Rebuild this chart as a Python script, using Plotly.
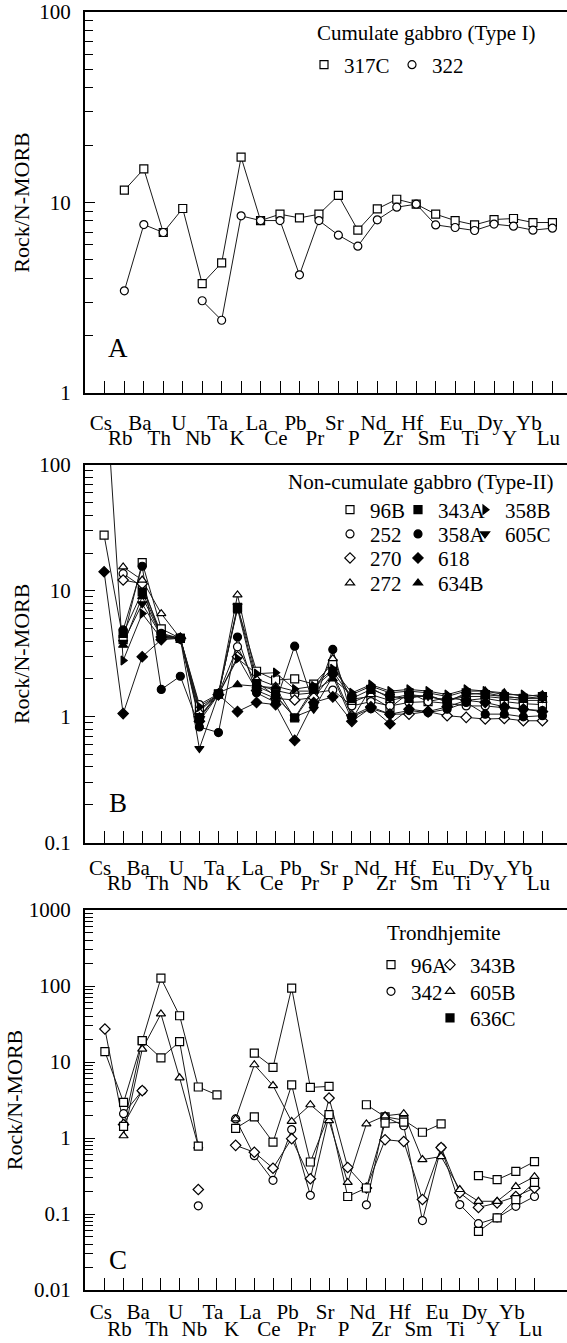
import plotly.graph_objects as go

# ---------------- data ----------------
elements = ["Cs", "Rb", "Ba", "Th", "U", "Nb", "Ta", "K", "La", "Ce", "Pb", "Pr",
            "Sr", "P", "Nd", "Zr", "Hf", "Sm", "Eu", "Ti", "Dy", "Y", "Yb", "Lu"]

# Panel A: Cumulate gabbro (Type I)
a_317C = [None, 11.6, 15.0, 6.96, 9.3, 3.75, 4.82, 17.3, 8.04, 8.68, 8.3, 8.68,
          10.9, 7.16, 9.26, 10.4, 9.8, 8.68, 8.04, 7.63, 8.14, 8.24, 7.85, 7.85]
a_322 = [None, 3.44, 7.66, 6.96, None, 3.05, 2.41, 8.51, 8.04, 8.04, 4.17, 8.04,
         6.74, 5.9, 8.11, 9.45, 9.8, 7.63, 7.39, 7.13, 7.70, 7.51, 7.16, 7.33]

# Panel B: Non-cumulate gabbro (Type-II)
b_96B = [27.7, 4.1, 16.8, 5.0, 4.2, 1.14, 1.51, 7.4, 2.3, 1.96, 2.0, 1.82,
         2.65, 1.38, 1.45, 1.18, 1.55, 1.32, 1.42, 1.35, 1.40, 1.32, 1.27, 1.25]
b_252 = [None, 13.7, 10.8, 4.6, 4.2, 1.25, 1.52, 3.6, 1.8, 1.62, 1.5, 1.55,
         1.63, 1.22, 1.32, 1.22, 1.3, 1.32, 1.28, 1.22, 1.22, 1.18, 1.15, 1.12]
b_270 = [None, 12.2, 11.4, 4.3, 4.2, 1.0, 1.5, 3.0, 1.62, 1.4, 1.36, 1.42,
         2.2, 1.02, 1.2, 1.05, 1.05, 1.1, 1.02, 0.99, 0.96, 0.97, 0.93, 0.93]
b_272 = [None, 15.5, 12.2, 6.6, 4.2, 1.1, 1.52, 9.3, 2.0, 1.75, 1.6, 1.6,
         2.9, 1.3, 1.5, 1.35, 1.45, 1.45, 1.35, 1.45, 1.45, 1.4, 1.35, 1.35]
b_343A = [None, 4.6, 9.8, 4.5, 4.2, 0.97, 1.52, 7.2, 1.75, 1.5, 0.98, 1.7,
          2.3, 1.4, 1.65, 1.45, 1.4, 1.5, 1.3, 1.55, 1.5, 1.45, 1.4, 1.45]
b_358A = [None, 4.9, 15.7, 1.65, 2.1, 0.83, 0.75, 4.3, 1.55, 1.3, 3.64, 1.25,
          3.43, 1.0, 1.16, 1.05, 1.12, 1.08, 1.15, 1.3, 1.05, 1.05, 1.0, 1.02]
b_618 = [14.2, 1.06, 3.0, 4.1, 4.2, 0.92, 1.5, 1.1, 1.3, 1.25, 0.65, 1.3,
         1.44, 0.92, 1.18, 0.88, 1.15, 1.1, 1.2, 1.35, 1.3, 1.2, 1.15, 1.1]
b_634B = [None, 3.7, 9.0, 4.4, 4.2, 1.0, 1.55, 1.8, 1.75, 1.7, 0.97, 1.6,
          2.0, 1.5, 1.75, 1.55, 1.6, 1.55, 1.45, 1.6, 1.6, 1.55, 1.45, 1.5]
b_358B = [650, 2.8, 6.6, 4.2, 4.2, 1.2, 1.5, 2.9, 2.2, 2.24, 1.66, 1.75,
          2.4, 1.55, 1.8, 1.6, 1.65, 1.6, 1.5, 1.65, 1.6, 1.5, 1.5, 1.45]
b_605C = [None, 3.9, 7.9, 4.4, 4.2, 0.56, 1.5, 7.6, 1.9, 1.45, 1.0, 1.15,
          2.1, 0.95, 1.7, 1.4, 1.5, 1.45, 1.35, 1.5, 1.55, 1.45, 1.4, 1.4]

# Panel C: Trondhjemite
c_96A = [13.7, 2.94, 19.1, 127, 40.6, 4.69, 3.7, None, 13.1, 8.5, 94, 4.63,
         4.78, None, 2.74, 1.9, 1.72, 1.19, 1.53, None, 0.32, 0.283, 0.364, 0.49]
c_342 = [None, 2.09, 4.2, None, None, 0.128, None, 1.78, 0.585, 0.277, 1.29, 0.176,
         2.0, None, 0.132, 1.9, 1.45, 0.082, 0.75, 0.133, 0.0745, 0.089, 0.126, 0.17]
c_343B = [27.2, 1.5, 4.2, None, None, 0.21, None, 0.80, 0.65, 0.40, 0.98, 0.291,
          3.36, 0.41, 0.22, 0.95, 0.90, 0.155, 0.75, 0.19, 0.122, 0.14, 0.17, 0.22]
c_605B = [None, 1.07, 14.8, 43, 6.2, 0.78, None, 1.78, 9.2, 4.9, 1.65, 2.74,
          1.69, 0.26, 1.53, 1.96, 2.09, 0.52, 0.57, 0.21, 0.147, 0.147, 0.23, 0.31]
c_636C = [None, 1.42, 19.1, 11.3, 18.5, 0.78, None, 1.34, 1.9, 0.88, 5.0, 0.483,
          2.03, 0.17, 0.22, 1.57, 1.62, None, None, None, 0.059, 0.089, 0.155, 0.26]

# ---------------- styling ----------------
FONT = "Liberation Serif"
W, H = 567, 1343
ML = 85
PW = W - ML

idx = list(range(len(elements)))


def py(p):
    return 1 - p / H


def px(p):
    return (p - ML) / PW


panels = [
    dict(ax="", ov="4", top=12, bot=393, yr=[0, 2], xr=[-1.023, 23.75],
         ytv=[1, 10, 100], ytt=["1", "10", "100"], letter="A", ly=348,
         s1=10, s2=30, tstand=4),
    dict(ax="2", ov="5", top=465, bot=842.7, yr=[-1, 2], xr=[-1.002, 24.29],
         ytv=[0.1, 1, 10, 100], ytt=["0.1", "1", "10", "100"], letter="B", ly=803,
         s1=5, s2=25, tstand=4),
    dict(ax="3", ov="6", top=910, bot=1290, yr=[-2, 3], xr=[-1.065, 24.74],
         ytv=[0.01, 0.1, 1, 10, 100, 1000],
         ytt=["0.01", "0.1", "1", "10", "100", "1000"], letter="C", ly=1260,
         s1=2, s2=24, tstand=0),
]

# (name, values, symbol, fill, legend fill, legend text x, legend row y)
series = {
    "": [("317C", a_317C, "square", "white", "white", 342, 65),
         ("322", a_322, "circle", "white", "white", 430, 65)],
    "2": [("96B", b_96B, "square", "white", "white", 368, 510),
          ("252", b_252, "circle", "white", "white", 368, 534.3),
          ("270", b_270, "diamond", "white", "white", 368, 558.3),
          ("272", b_272, "triangle-up", "white", "white", 368, 583.3),
          ("343A", b_343A, "square", "black", "black", 436, 510),
          ("358A", b_358A, "circle", "black", "black", 436, 534.3),
          ("618", b_618, "diamond", "black", "black", 436, 558.3),
          ("634B", b_634B, "triangle-up", "black", "black", 436, 583.3),
          ("358B", b_358B, "triangle-right", "black", "black", 503, 510),
          ("605C", b_605C, "triangle-down", "black", "black", 503, 534.3)],
    "3": [("96A", c_96A, "square", "white", "white", 409, 965),
          ("342", c_342, "circle", "white", "white", 409, 991.7),
          ("343B", c_343B, "diamond", "white", "white", 468, 965),
          ("605B", c_605B, "triangle-up", "white", "white", 468, 991.7),
          ("636C", c_636C, "square", "white", "black", 468, 1018.3)],
}

msize = {"square": 8, "circle": 8, "diamond": 8, "triangle-up": 8,
         "triangle-down": 8, "triangle-right": 8}

fig = go.Figure()
layout = dict(
    template="none",
    width=W, height=H,
    margin=dict(l=ML, r=0, t=0, b=0, pad=0),
    paper_bgcolor="white", plot_bgcolor="white",
    font=dict(family=FONT, size=21, color="black"),
    showlegend=True,
)

legend_no = 1
for p in panels:
    s = p["ax"]
    xa = "x" + s
    xo = "x" + p["ov"]
    ya = "y" + s
    for name, vals, sym, fill, lfill, tx, ty in series[s]:
        fig.add_trace(go.Scatter(
            x=idx, y=vals, mode="lines", xaxis=xa, yaxis=ya,
            line=dict(color="#1a1a1a", width=1), showlegend=False,
            hoverinfo="skip"))
    for name, vals, sym, fill, lfill, tx, ty in series[s]:
        lname = "legend" if legend_no == 1 else "legend%d" % legend_no
        # first (undrawn, Cs) entry carries the legend swatch colour
        colors = [lfill] + [fill] * (len(vals) - 1)
        fig.add_trace(go.Scatter(
            x=idx, y=vals, mode="markers", xaxis=xo, yaxis=ya, name=name,
            legend=lname,
            marker=dict(symbol=sym, size=msize[sym], color=colors,
                        line=dict(color="black", width=1.2))))
        layout[lname] = dict(
            x=px(tx - 38), y=py(ty), xanchor="left", yanchor="middle",
            orientation="v", bgcolor="rgba(0,0,0,0)", borderwidth=0,
            font=dict(family=FONT, size=21), itemclick=False,
            itemdoubleclick=False, tracegroupgap=0)
        legend_no += 1

annotations = []
for p in panels:
    s = p["ax"]
    dom = [py(p["bot"]), py(p["top"])]
    minor_vals = [m * 10.0 ** d for d in range(p["yr"][0], p["yr"][1])
                  for m in range(2, 10)]
    layout["xaxis" + s] = dict(
        domain=[0, 1], anchor="y" + s, range=p["xr"], automargin=False,
        tickmode="array", tickvals=idx[0::2], ticktext=elements[0::2],
        ticks="inside", ticklen=12, tickwidth=1.2, tickcolor="black",
        showline=True, linewidth=2, linecolor="black", mirror=True,
        showgrid=False, zeroline=False,
        tickfont=dict(family=FONT, size=21), ticklabelstandoff=p["s1"],
        ticklabelshift=-4,
    )
    layout["xaxis" + p["ov"]] = dict(
        overlaying="x" + s, anchor="y" + s, range=p["xr"], side="bottom",
        automargin=False,
        tickmode="array", tickvals=idx,
        ticktext=[e if i % 2 else "" for i, e in enumerate(elements)],
        ticks="inside", ticklen=12, tickwidth=1.2, tickcolor="black",
        showline=False, showgrid=False, zeroline=False,
        tickfont=dict(family=FONT, size=21), ticklabelstandoff=p["s2"],
        ticklabelshift=-4,
    )
    layout["yaxis" + s] = dict(
        domain=dom, anchor="x" + s, type="log", range=p["yr"], automargin=False,
        tickmode="array", tickvals=p["ytv"], ticktext=p["ytt"],
        ticks="inside", ticklen=10, tickwidth=1.2, tickcolor="black",
        minor=dict(tickmode="array", tickvals=minor_vals, ticks="inside",
                   ticklen=8, tickwidth=1, tickcolor="black", showgrid=False),
        showline=True, linewidth=2, linecolor="black", mirror=False,
        showgrid=False, zeroline=False,
        tickfont=dict(family=FONT, size=21), ticklabelstandoff=8,
        title=dict(text="Rock/N-MORB", font=dict(family=FONT, size=22),
                   standoff=p["tstand"]),
    )
    annotations.append(dict(
        text=p["letter"], x=px(118), y=py(p["ly"]), xref="paper", yref="paper",
        showarrow=False, font=dict(family=FONT, size=27), xanchor="center",
        yanchor="middle"))

titles = [("Cumulate gabbro (Type I)", 315, 33),
          ("Non-cumulate gabbro (Type-II)", 286, 482),
          ("Trondhjemite", 385, 933)]
for t, tx, ty in titles:
    annotations.append(dict(text=t, x=px(tx), y=py(ty), xref="paper", yref="paper",
                            showarrow=False, xanchor="left", yanchor="middle",
                            font=dict(family=FONT, size=21)))
layout["annotations"] = annotations

fig.update_layout(**layout)
fig.write_html("out.html",
               config={"displayModeBar": False},
               post_script="document.body.style.margin='0px';"
                           "document.documentElement.style.overflow='hidden';")
